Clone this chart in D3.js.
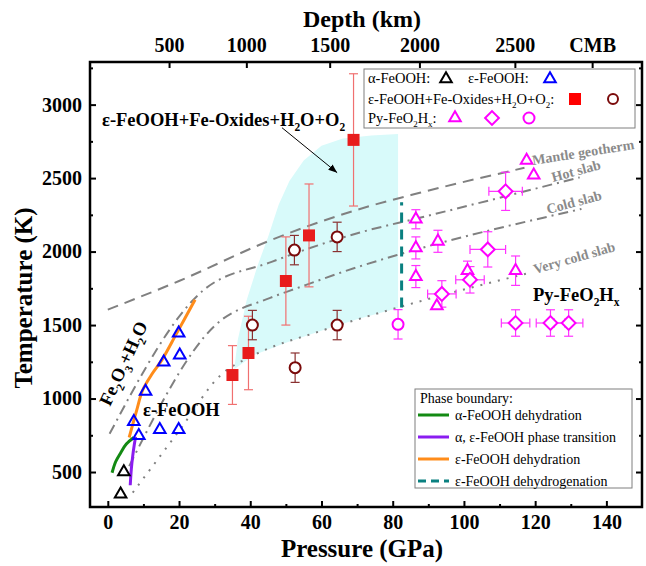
<!DOCTYPE html>
<html>
<head>
<meta charset="utf-8">
<script src="https://cdn.jsdelivr.net/npm/d3@7"></script>
<style>
  body { margin: 0; background: #fff; }
  text { font-family: "Liberation Serif", "Times New Roman", serif; }
</style>
</head>
<body>
<svg id="chart" width="646" height="566"></svg>
<script>
// axis ticks
const pressureTicks = [0, 20, 40, 60, 80, 100, 120, 140];
const pressureMinor = [10, 30, 50, 70, 90, 110, 130];
const tempTicks = [500, 1000, 1500, 2000, 2500, 3000];
const tempMinor = [750, 1250, 1750, 2250, 2750, 3250];
const depthLabels = ['500', '1000', '1500', '2000', '2500', 'CMB'];
const depthPressure = [17.2, 38.9, 62.3, 87.5, 114.3, 136];

// alpha-FeOOH and epsilon-FeOOH (open triangles)
const alphaP = [3.6, 4.5];
const alphaT = [350, 500];
const epsP = [19.9, 20.2, 15.7, 10.6, 7.3, 8.7, 14.6, 19.9];
const epsT = [1445, 1295, 1247, 1048, 842, 747, 788, 788];

// e-FeOOH + Fe-oxides + H2O + O2
const oxSqP = [35, 39.5, 50, 56.5, 69];
const oxSqT = [1160, 1310, 1800, 2110, 2760];
const oxSqErr = [200, 250, 300, 350, 450];
const oxCircP = [40.6, 52.6, 64.4, 52.4, 64.4];
const oxCircT = [1500, 1210, 1500, 2010, 2100];
const oxCircErr = [100, 100, 100, 100, 100];

// Py-FeO2Hx
const pyTriP = [86.5, 86.5, 86.5, 92.7, 92.4, 101, 114.5, 117.6, 119.6];
const pyTriT = [2220, 2025, 1830, 2070, 1630, 1870, 1870, 2620, 2520];
const pyTriErr = [65, 75, 75, 75, 0, 65, 100, 0, 0];
const pyDiaP = [111.7, 106.7, 101.7, 93.8, 114.5, 124.3, 129.4];
const pyDiaT = [2410, 2015, 1808, 1712, 1514, 1514, 1514];
const pyDiaPErr = [4.7, 5, 4, 4, 4, 4, 4];
const pyDiaTErr = [130, 120, 90, 90, 90, 90, 90];
const pyCircP = [81.5];
const pyCircT = [1505];
const pyCircErr = [100];

// geotherms
const geothermP = [0, 20, 46, 70.8, 87.6, 117];
const geothermT = [1605, 1800, 2080, 2290, 2400, 2570];
const hotP = [0.5, 27, 46, 70.8, 87.6, 132.5];
const hotT = [760, 1740, 1930, 2130, 2230, 2505];
const coldP = [6, 30, 45.6, 53, 70.8, 81, 133];
const coldT = [540, 1495, 1685, 1750, 1900, 1975, 2290];
const veryColdP = [7, 20, 31.6, 41, 59.7, 81, 118.5];
const veryColdT = [360, 780, 1157, 1295, 1459, 1616, 1856];

// phase boundaries
const greenP = [1.2, 2.2, 3.6, 5.2, 7.3];
const greenT = [495, 570, 630, 690, 735];
const purpleP = [6.3, 6.6, 7.0, 7.4, 7.8];
const purpleT = [410, 520, 610, 680, 740];
const orangeP = [6, 8.1, 9.8, 12.5, 15.2, 19.4, 24.5];
const orangeT = [735, 920, 1058, 1170, 1263, 1447, 1672];
const tealP = [82.5, 82.5];
const tealT = [1620, 2335];

// shaded stability field
const regionP = [35.5, 36.5, 39, 42, 45, 48, 51, 55, 60, 66, 74, 81.5, 81.5, 70, 59.7, 50, 41, 35.5];
const regionT = [1200, 1400, 1670, 1900, 2100, 2320, 2480, 2620, 2720, 2770, 2790, 2800, 1616, 1540, 1459, 1380, 1295, 1200];

const svg = d3.select('#chart');
const x = d3.scaleLinear().domain([-5, 150]).range([90, 642]);
const y = d3.scaleLinear().domain([262, 3290]).range([507, 62]);

const zip = (P, T) => P.map((p, i) => [p, T[i]]);

svg.append('clipPath').attr('id', 'clip')
  .append('rect').attr('x', 90).attr('y', 62).attr('width', 552).attr('height', 445);

const plot = svg.append('g').attr('clip-path', 'url(#clip)');

plot.append('path')
  .datum(zip(regionP, regionT))
  .attr('d', d3.line().x(d => x(d[0])).y(d => y(d[1])))
  .attr('fill', '#d8fafa');

const smooth = d3.line().x(d => x(d[0])).y(d => y(d[1])).curve(d3.curveMonotoneX);

function grayLine(P, T, dash) {
  plot.append('path')
    .datum(zip(P, T))
    .attr('d', smooth)
    .attr('fill', 'none')
    .attr('stroke', '#808080')
    .attr('stroke-width', 2)
    .attr('stroke-dasharray', dash);
}
grayLine(geothermP, geothermT, '11,7');
grayLine(hotP, hotT, '10,5,2,5');
grayLine(coldP, coldT, '10,5,2,5');
grayLine(veryColdP, veryColdT, '2,7');

function phaseLine(P, T, color, dash) {
  plot.append('path')
    .datum(zip(P, T))
    .attr('d', d3.line().x(d => x(d[0])).y(d => y(d[1])).curve(d3.curveCatmullRom))
    .attr('fill', 'none')
    .attr('stroke', color)
    .attr('stroke-width', 3)
    .attr('stroke-dasharray', dash || null);
}
phaseLine(orangeP, orangeT, '#ff8c1a');
phaseLine(greenP, greenT, '#138a13');
phaseLine(purpleP, purpleT, '#8a1cf0');
phaseLine(tealP, tealT, '#0a8080', '10,7');

// error bars
function errBars(P, T, TErr, color, PErr) {
  P.forEach((p, i) => {
    const cx = x(p), cy = y(T[i]);
    if (TErr[i] > 0) {
      const y0 = y(T[i] - TErr[i]), y1 = y(T[i] + TErr[i]);
      plot.append('line').attr('x1', cx).attr('x2', cx).attr('y1', y0).attr('y2', y1)
        .attr('stroke', color).attr('stroke-width', 1.2);
      [y0, y1].forEach(v => plot.append('line').attr('x1', cx - 4.5).attr('x2', cx + 4.5)
        .attr('y1', v).attr('y2', v).attr('stroke', color).attr('stroke-width', 1.2));
    }
    if (PErr && PErr[i] > 0) {
      const x0 = x(p - PErr[i]), x1 = x(p + PErr[i]);
      plot.append('line').attr('x1', x0).attr('x2', x1).attr('y1', cy).attr('y2', cy)
        .attr('stroke', color).attr('stroke-width', 1.2);
      [x0, x1].forEach(v => plot.append('line').attr('x1', v).attr('x2', v)
        .attr('y1', cy - 4.5).attr('y2', cy + 4.5).attr('stroke', color).attr('stroke-width', 1.2));
    }
  });
}
errBars(oxSqP, oxSqT, oxSqErr, '#f07070');
errBars(oxCircP, oxCircT, oxCircErr, '#8a3030');
errBars(pyTriP, pyTriT, pyTriErr, '#ff33ff');
errBars(pyDiaP, pyDiaT, pyDiaTErr, '#ff33ff', pyDiaPErr);
errBars(pyCircP, pyCircT, pyCircErr, '#ff33ff');

const triPath = d3.symbol(d3.symbolTriangle, 58)();
const sqPath = d3.symbol(d3.symbolSquare, 144)();
const diaPath = d3.symbol(d3.symbolSquare, 95)();

function markers(P, T, path, stroke, fill, rot) {
  plot.selectAll(null)
    .data(zip(P, T))
    .join('path')
    .attr('d', path)
    .attr('transform', d => `translate(${x(d[0])},${y(d[1])})` + (rot ? ` rotate(${rot})` : ''))
    .attr('fill', fill)
    .attr('stroke', stroke)
    .attr('stroke-width', stroke === 'none' ? 0 : 2);
}
function circles(P, T, stroke) {
  plot.selectAll(null)
    .data(zip(P, T))
    .join('circle')
    .attr('cx', d => x(d[0])).attr('cy', d => y(d[1])).attr('r', 5.5)
    .attr('fill', '#fff').attr('stroke', stroke).attr('stroke-width', 2);
}
markers(alphaP, alphaT, triPath, '#000', 'none');
markers(epsP, epsT, triPath, '#0000ff', 'none');
markers(oxSqP, oxSqT, sqPath, 'none', '#e81c1c');
circles(oxCircP, oxCircT, '#7a0a0a');
markers(pyTriP, pyTriT, triPath, '#ff00ff', '#fff');
markers(pyDiaP, pyDiaT, diaPath, '#ff00ff', '#fff', 45);
circles(pyCircP, pyCircT, '#ff00ff');

// text with single-char subscripts written as _x
function rich(t, s, fs) {
  let shifted = false;
  s.split(/(_.)/).filter(p => p).forEach(p => {
    if (p[0] === '_' && p.length === 2) {
      t.append('tspan').attr('dy', fs * 0.28).attr('font-size', fs * 0.62).text(p[1]);
      shifted = true;
    } else {
      const ts = t.append('tspan').text(p);
      if (shifted) { ts.attr('dy', -fs * 0.28); shifted = false; }
    }
  });
  return t;
}
function label(px, py, s, fs, opts) {
  opts = opts || {};
  const t = svg.append('text')
    .attr('x', px).attr('y', py)
    .attr('font-size', fs)
    .attr('font-weight', opts.weight || 'bold')
    .attr('fill', opts.color || '#000')
    .attr('text-anchor', opts.anchor || 'start');
  if (opts.rot) t.attr('transform', `rotate(${opts.rot},${px},${py})`);
  return rich(t, s, fs);
}

// arrow annotation
svg.append('defs').append('marker')
  .attr('id', 'arrow').attr('viewBox', '0 0 10 8').attr('refX', 10).attr('refY', 4)
  .attr('markerWidth', 9).attr('markerHeight', 7).attr('orient', 'auto')
  .append('path').attr('d', 'M0,0L10,4L0,8z').attr('fill', '#000');
svg.append('line')
  .attr('x1', x(48.9)).attr('y1', y(2843)).attr('x2', x(64.4)).attr('y2', y(2537))
  .attr('stroke', '#000').attr('stroke-width', 1).attr('marker-end', 'url(#arrow)');

label(102, 126, 'ε-FeOOH+Fe-Oxides+H_2O+O_2', 18.5);
label(143, 416, 'ε-FeOOH', 18.5);
label(533, 301, 'Py-FeO_2H_x', 18.5);
label(129, 366, 'Fe_2O_3+H_2O', 18.5, { anchor: 'middle', rot: -65 });

label(533, 165, 'Mantle geotherm', 14, { color: '#8a8a8a', rot: -9 });
label(553, 182, 'Hot slab', 14, { color: '#8a8a8a', rot: -15 });
label(548, 214, 'Cold slab', 14, { color: '#8a8a8a', rot: -15 });
label(535, 274, 'Very cold slab', 14, { color: '#8a8a8a', rot: -16 });

// legend: data sets
const lg1 = svg.append('g');
lg1.append('rect').attr('x', 364).attr('y', 69).attr('width', 271).attr('height', 59)
  .attr('fill', '#fff').attr('stroke', '#7f7f7f').attr('stroke-width', 1);
function legText(px, py, s) {
  const t = lg1.append('text').attr('x', px).attr('y', py).attr('font-size', 14.5);
  rich(t, s, 14.5);
}
legText(368, 83, 'α-FeOOH:');
legText(468, 83, 'ε-FeOOH:');
legText(368, 104, 'ε-FeOOH+Fe-Oxides+H_2O+O_2:');
legText(368, 123, 'Py-FeO_2H_x:');
lg1.append('path').attr('d', triPath).attr('transform', 'translate(446,79)')
  .attr('fill', 'none').attr('stroke', '#000').attr('stroke-width', 2);
lg1.append('path').attr('d', triPath).attr('transform', 'translate(550,79)')
  .attr('fill', 'none').attr('stroke', '#0000ff').attr('stroke-width', 2);
lg1.append('path').attr('d', sqPath).attr('transform', 'translate(575,99)').attr('fill', '#ff0000');
lg1.append('circle').attr('cx', 613).attr('cy', 99).attr('r', 5)
  .attr('fill', 'none').attr('stroke', '#7a0a0a').attr('stroke-width', 2);
lg1.append('path').attr('d', triPath).attr('transform', 'translate(455,118)')
  .attr('fill', 'none').attr('stroke', '#ff00ff').attr('stroke-width', 2);
lg1.append('path').attr('d', diaPath).attr('transform', 'translate(492,118) rotate(45)')
  .attr('fill', 'none').attr('stroke', '#ff00ff').attr('stroke-width', 2);
lg1.append('circle').attr('cx', 529).attr('cy', 118).attr('r', 5.5)
  .attr('fill', 'none').attr('stroke', '#ff00ff').attr('stroke-width', 2);

// legend: phase boundaries
const lg2 = svg.append('g');
lg2.append('rect').attr('x', 415).attr('y', 389).attr('width', 217).attr('height', 99)
  .attr('fill', '#fff').attr('stroke', '#7f7f7f').attr('stroke-width', 1);
lg2.append('text').attr('x', 420).attr('y', 403).attr('font-size', 14).text('Phase boundary:');
const phaseItems = [
  ['α-FeOOH dehydration', '#138a13', null],
  ['α, ε-FeOOH phase transition', '#8a1cf0', null],
  ['ε-FeOOH dehydration', '#ff8c1a', null],
  ['ε-FeOOH dehydrogenation', '#0a8080', '8,5']
];
const rowY = [415, 437, 459, 481];
phaseItems.forEach((it, i) => {
  lg2.append('line').attr('x1', 418).attr('x2', 449).attr('y1', rowY[i]).attr('y2', rowY[i])
    .attr('stroke', it[1]).attr('stroke-width', 3).attr('stroke-dasharray', it[2]);
  lg2.append('text').attr('x', 455).attr('y', rowY[i] + 5).attr('font-size', 14).text(it[0]);
});

// frame and axes
svg.append('rect').attr('x', 90).attr('y', 62).attr('width', 552).attr('height', 445)
  .attr('fill', 'none').attr('stroke', '#000').attr('stroke-width', 2.5);

function styleAxis(g, fs) {
  g.select('.domain').remove();
  g.selectAll('line').attr('stroke', '#000').attr('stroke-width', 2);
  g.selectAll('text').attr('font-size', fs).attr('font-weight', 'bold').attr('fill', '#000');
}
const fmt = d3.format('d');
svg.append('g').attr('transform', 'translate(0,507)')
  .call(d3.axisBottom(x).tickValues(pressureTicks).tickSize(-6).tickPadding(8).tickFormat(fmt))
  .call(g => styleAxis(g, 20));
svg.append('g').attr('transform', 'translate(0,507)')
  .call(d3.axisBottom(x).tickValues(pressureMinor).tickSize(-3).tickFormat(''))
  .call(g => styleAxis(g, 20));
svg.append('g').attr('transform', 'translate(90,0)')
  .call(d3.axisLeft(y).tickValues(tempTicks).tickSize(-6).tickPadding(8).tickFormat(fmt))
  .call(g => styleAxis(g, 20));
svg.append('g').attr('transform', 'translate(90,0)')
  .call(d3.axisLeft(y).tickValues(tempMinor).tickSize(-3).tickFormat(''))
  .call(g => styleAxis(g, 20));
svg.append('g').attr('transform', 'translate(642,0)')
  .call(d3.axisRight(y).tickValues(tempTicks).tickSize(-6).tickFormat(''))
  .call(g => styleAxis(g, 20));
svg.append('g').attr('transform', 'translate(642,0)')
  .call(d3.axisRight(y).tickValues(tempMinor).tickSize(-3).tickFormat(''))
  .call(g => styleAxis(g, 20));
svg.append('g').attr('transform', 'translate(0,62)')
  .call(d3.axisTop(x).tickValues(depthPressure).tickSize(-6).tickPadding(10)
    .tickFormat((d, i) => depthLabels[i]))
  .call(g => styleAxis(g, 20));

svg.append('text').attr('x', 362).attr('y', 557).attr('text-anchor', 'middle')
  .attr('font-size', 25).attr('font-weight', 'bold').text('Pressure (GPa)');
svg.append('text').attr('x', 362).attr('y', 27).attr('text-anchor', 'middle')
  .attr('font-size', 24).attr('font-weight', 'bold').text('Depth (km)');
svg.append('text').attr('transform', 'translate(32,298) rotate(-90)').attr('text-anchor', 'middle')
  .attr('font-size', 25).attr('font-weight', 'bold').text('Temperature (K)');
</script>
</body>
</html>
